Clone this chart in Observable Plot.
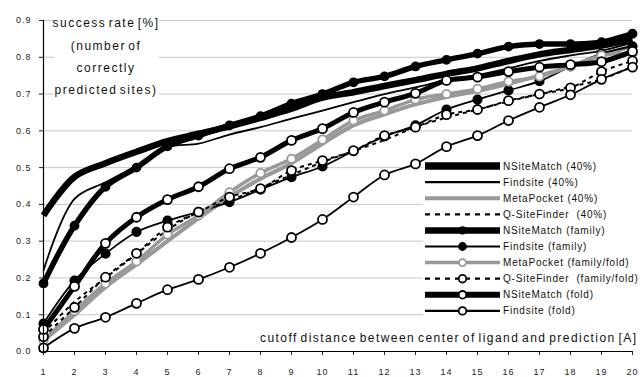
<!DOCTYPE html>
<html><head><meta charset="utf-8">
<script src="https://cdn.jsdelivr.net/npm/d3@7"></script>
<script src="https://cdn.jsdelivr.net/npm/@observablehq/plot@0.6"></script>
<style>body{margin:0;background:#fff}</style>
</head><body><div id="chart"></div>
<script>
// ---- data ----
const cutoff = [1,2,3,4,5,6,7,8,9,10,11,12,13,14,15,16,17,18,19,20];
const seriesNames = [
  "NSiteMatch (40%)", "Findsite (40%)", "MetaPocket (40%)", "Q-SiteFinder  (40%)",
  "NSiteMatch (family)", "Findsite (family)", "MetaPocket (family/fold)",
  "Q-SiteFinder  (family/fold)", "NSiteMatch (fold)", "Findsite (fold)"
];
const nsm40   = [0.37,0.475,0.512,0.543,0.572,0.592,0.612,0.635,0.66,0.69,0.705,0.722,0.738,0.755,0.77,0.79,0.808,0.82,0.832,0.848];
const fs40    = [0.22,0.415,0.46,0.505,0.555,0.565,0.59,0.61,0.633,0.655,0.678,0.70,0.718,0.738,0.752,0.77,0.79,0.805,0.818,0.84];
const mp40    = [0.03,0.10,0.175,0.237,0.30,0.362,0.42,0.47,0.512,0.565,0.615,0.645,0.672,0.692,0.708,0.728,0.75,0.775,0.805,0.83];
const qsf40   = [0.05,0.135,0.20,0.265,0.33,0.38,0.41,0.445,0.48,0.515,0.545,0.575,0.61,0.636,0.658,0.68,0.70,0.72,0.74,0.775];
const nsmFam  = [0.185,0.342,0.448,0.50,0.558,0.587,0.615,0.64,0.674,0.70,0.732,0.748,0.775,0.793,0.81,0.829,0.836,0.836,0.841,0.864];
const fsFam   = [0.076,0.193,0.266,0.325,0.356,0.38,0.406,0.44,0.474,0.503,0.545,0.585,0.615,0.658,0.685,0.71,0.735,0.775,0.81,0.83];
const mpFam   = [0.03,0.11,0.185,0.245,0.318,0.37,0.433,0.485,0.524,0.576,0.628,0.655,0.685,0.70,0.714,0.734,0.748,0.775,0.805,0.81];
const qsfFam  = [0.04,0.12,0.202,0.267,0.338,0.379,0.42,0.443,0.492,0.519,0.546,0.587,0.61,0.644,0.658,0.682,0.70,0.717,0.761,0.79];
const nsmFold = [0.06,0.177,0.294,0.365,0.413,0.448,0.497,0.528,0.574,0.606,0.65,0.678,0.702,0.737,0.746,0.761,0.773,0.78,0.788,0.816];
const fsFold  = [0.01,0.063,0.093,0.131,0.168,0.196,0.229,0.267,0.31,0.359,0.42,0.48,0.51,0.557,0.587,0.628,0.664,0.698,0.74,0.773];
const yTicks = [0,0.1,0.2,0.3,0.4,0.5,0.6,0.7,0.8,0.9];
const yLabelLines = ["success rate [%]", "(number of", "correctly", "predicted sites)"];
const xLabel = "cutoff distance between center of ligand and prediction [A]";

const values = [nsm40, fs40, mp40, qsf40, nsmFam, fsFam, mpFam, qsfFam, nsmFold, fsFold];

// ---- styles (kept separate from data) ----
const GRAY = "#999";
const styles = [
  {stroke:"#000", w:6.5},
  {stroke:"#000", w:1.8},
  {stroke:GRAY,  w:4},
  {stroke:"#000", w:2, dash:"4,4"},
  {stroke:"#000", w:5.5, dot:{fill:"#000", stroke:"#000", r:4}},
  {stroke:"#000", w:1.8, dot:{fill:"#000", stroke:"#000", r:4.2}},
  {stroke:GRAY,  w:3.5, dot:{fill:"#fff", stroke:GRAY, r:4.2}},
  {stroke:"#000", w:2, dash:"4,4", dot:{fill:"#fff", stroke:"#000", r:4.5}},
  {stroke:"#000", w:5, dot:{fill:"#fff", stroke:"#000", r:4.5}},
  {stroke:"#000", w:1.8, dot:{fill:"#fff", stroke:"#000", r:4.5}}
];

const rows = [];
seriesNames.forEach((name, s) => cutoff.forEach((c, i) => rows.push({series: name, s, x: c, y: values[s][i]})));

const marks = [Plot.ruleY(yTicks.filter(d => d > 0), {stroke:"#c8c8c8", strokeWidth:1})];
seriesNames.forEach((name, s) => {
  const st = styles[s];
  const d = rows.filter(r => r.s === s);
  marks.push(Plot.line(d, {x:"x", y:"y", stroke: st.stroke, strokeWidth: st.w,
    strokeDasharray: st.dash, curve:"catmull-rom", strokeLinejoin:"round", strokeLinecap:"butt"}));
  if (st.dot) marks.push(Plot.dot(d, {x:"x", y:"y", r: st.dot.r, fill: st.dot.fill, stroke: st.dot.stroke, strokeWidth:1.8}));
});
marks.push(Plot.ruleX([1], {stroke:"#000", strokeWidth:1.2}));
marks.push(Plot.ruleY([0], {stroke:"#000", strokeWidth:1.2}));

const FONT = "'Liberation Sans', Arial, sans-serif";
const plot = Plot.plot({
  width: 642, height: 377,
  marginLeft: 43, marginRight: 10, marginTop: 20, marginBottom: 26,
  x: {domain:[1,20], ticks:20, tickSize:4, tickPadding:13, label:null, tickFormat: d => String(d)},
  y: {domain:[0,0.9], ticks:9, tickSize:4, tickPadding:8, label:null, tickFormat: d3.format(".1f")},
  style: {fontFamily: FONT, fontSize:"9px", color:"#222", background:"#fff", letterSpacing:"1px"},
  marks
});
document.getElementById("chart").appendChild(plot);

// ---- background boxes behind series (label box and legend box) ----
const svg = d3.select(plot);
const firstLine = plot.querySelector("g[aria-label='line']");
const bg = document.createElementNS("http://www.w3.org/2000/svg", "g");
plot.insertBefore(bg, firstLine);
d3.select(bg).append("rect").attr("x",54).attr("y",9).attr("width",105).attr("height",91).attr("fill","#fff");
d3.select(bg).append("rect").attr("x",423).attr("y",159).attr("width",219).attr("height",160).attr("fill","#fff");

// ---- y-axis title ----
const yl = svg.append("g").attr("font-family", FONT).attr("font-size", 12).attr("fill","#111")
  .attr("letter-spacing","1.5px").attr("word-spacing","-2.5px").attr("text-anchor","middle");
yLabelLines.forEach((t, i) => yl.append("text").attr("x",106).attr("y",23 + i*22.3).attr("dy","0.35em").text(t));

// ---- x-axis title ----
svg.append("text").attr("x",260).attr("y",338).attr("dy","0.35em").attr("font-family",FONT).attr("fill","#111")
  .attr("text-anchor","start")
  .attr("font-size",12).attr("letter-spacing","1.45px").attr("word-spacing","-2px").text(xLabel);

// ---- legend ----
const lg = svg.append("g").attr("font-family", FONT).attr("font-size", 10).attr("fill","#111")
  .attr("letter-spacing","0.8px").attr("text-anchor","start");
seriesNames.forEach((name, s) => {
  const st = styles[s];
  const y = 166 + s*16.1;
  lg.append("line").attr("x1",425).attr("x2",500).attr("y1",y).attr("y2",y)
    .attr("stroke", st.stroke).attr("stroke-width", Math.max(st.w, 2.2) + (st.w > 4 ? 1 : 0))
    .attr("stroke-dasharray", st.dash ? "5,5" : null);
  if (st.dot) lg.append("circle").attr("cx",462.5).attr("cy",y).attr("r", st.dot.r - 0.7)
    .attr("fill", st.dot.fill).attr("stroke", st.dot.stroke).attr("stroke-width",1.8);
  lg.append("text").attr("x",503).attr("y",y).attr("dy","0.35em").text(name);
});
</script>
</body></html>
